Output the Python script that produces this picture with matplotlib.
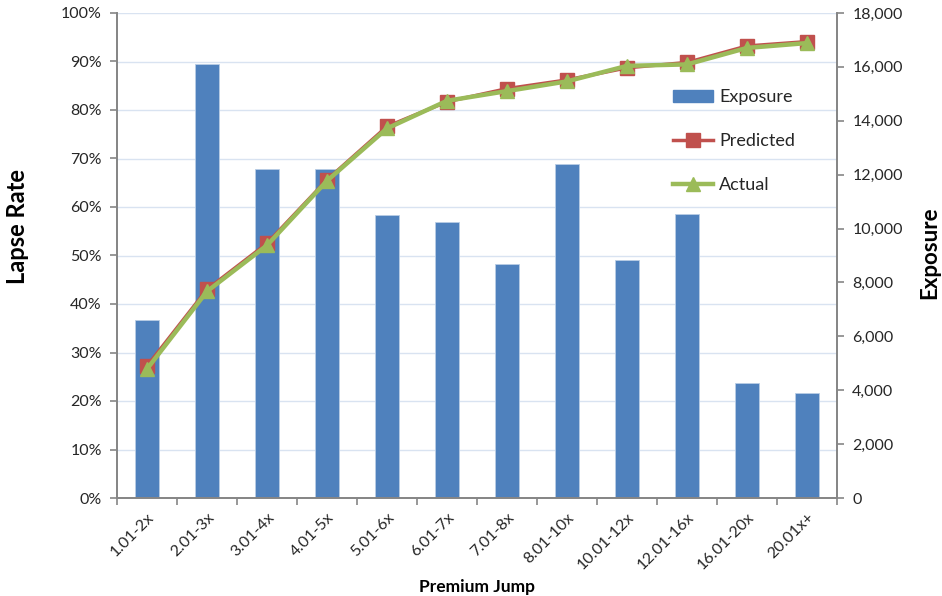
import matplotlib
matplotlib.use("Agg")
import matplotlib.pyplot as plt
from matplotlib.ticker import FuncFormatter, FixedLocator
from matplotlib.patches import Patch
import numpy as np

plt.rcParams['font.family'] = ['Lato', 'DejaVu Sans']

categories = ["1.01-2x", "2.01-3x", "3.01-4x", "4.01-5x", "5.01-6x", "6.01-7x",
              "7.01-8x", "8.01-10x", "10.01-12x", "12.01-16x", "16.01-20x", "20.01x+"]
exposure = [6600, 16100, 12200, 12200, 10500, 10250, 8700, 12400, 8850, 10550, 4280, 3900]
predicted = [27.2, 43.0, 52.5, 65.6, 76.6, 81.7, 84.4, 86.2, 88.7, 89.8, 93.2, 94.1]
actual = [26.6, 42.6, 52.1, 65.4, 76.2, 81.9, 83.9, 85.9, 89.1, 89.4, 92.8, 93.8]

pct_ticks = list(range(0, 101, 10))
exp_ticks = list(range(0, 18001, 2000))

BAR = "#4F81BD"
RED = "#C0504D"
GREEN = "#9BBB59"
SPINE = "#868686"
GRID = "#D9E3F1"
TXT = "#262626"

fig = plt.figure(figsize=(9.42, 5.96), dpi=100)
ax = fig.add_axes([117/942, 1-498/596, 720/942, 485/596])
ax2 = ax.twinx()
ax.set_zorder(ax2.get_zorder() + 1)
ax.patch.set_visible(False)

x = np.arange(len(categories))

# exposure bars on the right-hand scale, with the percentage grid behind them
ax2.set_ylim(0, exp_ticks[-1])
for t in pct_ticks[1:]:
    ax2.axhline(t / 100 * exp_ticks[-1], color=GRID, lw=1.0, zorder=0)
ax2.bar(x, exposure, width=0.4, color=BAR, edgecolor="#B9CDE5", linewidth=0.6, zorder=2)

# lapse-rate lines on the left-hand scale
ax.plot(x, predicted, color=RED, lw=2.5, marker="s", markersize=9.5,
        markeredgecolor=RED, label="Predicted", zorder=3)
ax.plot(x, actual, color=GREEN, lw=3.2, marker="^", markersize=10,
        markeredgecolor=GREEN, label="Actual", zorder=4)

ax.set_xlim(-0.5, len(categories) - 0.5)
ax.set_ylim(0, 100)
ax.yaxis.set_major_locator(FixedLocator(pct_ticks))
ax.yaxis.set_major_formatter(FuncFormatter(lambda v, p: f"{v:.0f}%"))
ax2.yaxis.set_major_locator(FixedLocator(exp_ticks))
ax2.yaxis.set_major_formatter(FuncFormatter(lambda v, p: f"{v:,.0f}"))

ax.set_xticks(x)
ax.set_xticklabels(categories, rotation=45, ha="right", va="top",
                   rotation_mode="anchor", fontsize=11.5, color=TXT)
ax.set_xticks(np.arange(-0.5, len(categories)), minor=True)
ax.tick_params(axis="x", which="major", length=0, pad=9)
ax.tick_params(axis="x", which="minor", length=5, color=SPINE, width=1.2)
ax.tick_params(axis="y", length=5, color=SPINE, width=1.2, labelsize=11.5,
               labelcolor=TXT, pad=6)
ax2.tick_params(axis="y", length=5, color=SPINE, width=1.2, labelsize=11.5,
                labelcolor=TXT, pad=6)

for a in (ax, ax2):
    a.spines["top"].set_visible(False)
    for s in ("left", "right", "bottom"):
        a.spines[s].set_color(SPINE)
        a.spines[s].set_linewidth(1.3)

fig.text(18/942, 1-226/596, "Lapse Rate", rotation=90, ha="center", va="center",
         fontsize=17, fontweight="bold", color="#000000")
fig.text(940/942, 1-253/596, "Exposure", rotation=90, ha="right", va="center",
         fontsize=16, fontweight="bold", color="#000000")
fig.text(477/942, 1-587/596, "Premium Jump", ha="center", va="center",
         fontsize=12.5, fontweight="bold", color="#000000")

handles = [Patch(facecolor=BAR, edgecolor=BAR, label="Exposure")] + ax.get_lines()
leg = fig.legend(handles=handles, loc="upper left",
                 bbox_to_anchor=(657/942, 1-73/596), frameon=False, fontsize=13,
                 handlelength=2.2, handletextpad=0.35, labelspacing=1.55)
for t in leg.get_texts():
    t.set_color(TXT)

fig.savefig("out.png", dpi=100)
